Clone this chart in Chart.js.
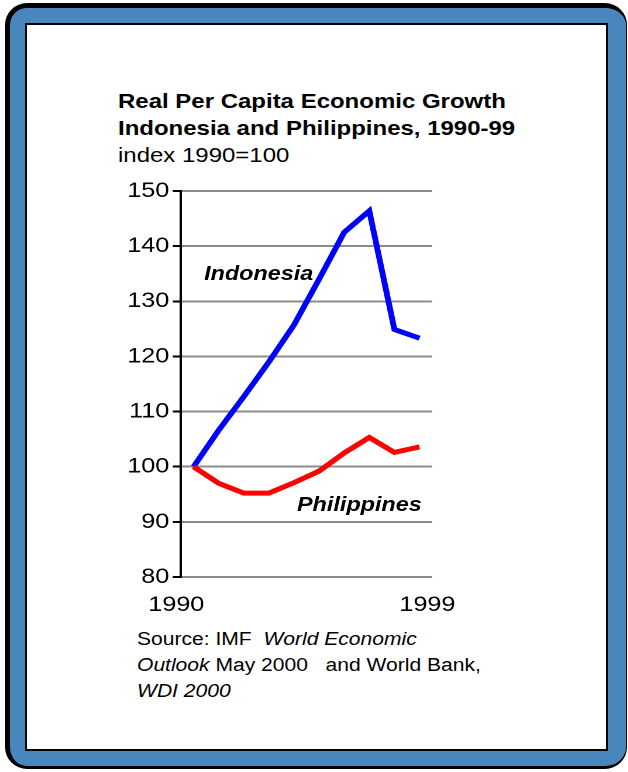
<!DOCTYPE html>
<html>
<head>
<meta charset="utf-8">
<script src="https://cdn.jsdelivr.net/npm/chart.js@4/dist/chart.umd.min.js"></script>
<style>
  html, body { margin:0; padding:0; background:#fff; width:628px; height:772px; overflow:hidden; font-family:"Liberation Sans", Arial, sans-serif; }
  #outer { position:absolute; left:5px; top:3px; width:622px; height:766px; box-sizing:border-box;
           background:#4a86be; border-style:solid; border-color:#000; border-width:5px 1px 3px 5px; border-radius:22px; }
  #inner { position:absolute; left:25px; top:23px; width:583px; height:728px; box-sizing:border-box;
           background:#fff; border:2px solid #000; }
  .st { position:absolute; transform:scaleX(1.17); transform-origin:0 0; white-space:nowrap; color:#000; }
  #title { left:118px; top:87px; font-size:20.5px; line-height:27px; }
  #title b { font-weight:bold; }
  #source { left:137px; top:626px; font-size:18px; line-height:26px; }
  #chartWrap { left:100px; top:170px; width:325px; height:450px; }
</style>
</head>
<body>
<div id="outer"></div>
<div id="inner"></div>
<div id="title" class="st"><b>Real Per Capita Economic Growth</b><br><b>Indonesia and Philippines, 1990-99</b><br>index 1990=100</div>
<div id="chartWrap" class="st"><canvas id="c" width="325" height="450"></canvas></div>
<div id="source" class="st">Source: IMF&nbsp; <i>World Economic</i><br><i>Outlook</i> May 2000&nbsp;&nbsp; and World Bank,<br><i>WDI 2000</i></div>
<script>
// ---- data ----
const years = [1990, 1991, 1992, 1993, 1994, 1995, 1996, 1997, 1998, 1999];
const indonesia = [100, 106.6, 112.7, 119.0, 125.7, 134.0, 142.5, 146.4, 124.9, 123.3];
const philippines = [100, 97.0, 95.2, 95.2, 97.1, 99.2, 102.5, 105.3, 102.6, 103.6];
const seriesNames = ['Indonesia', 'Philippines'];
const yTicks = [80, 90, 100, 110, 120, 130, 140, 150];
const xTickLabels = [String(years[0]), String(years[years.length - 1])];
// label anchors in data units [year, index value]
const labelAnchors = [[1990.42, 134.9], [1994.12, 93.0]];

const FONT = '"Liberation Sans", Arial, sans-serif';
Chart.defaults.font.family = FONT;
Chart.defaults.color = '#000';

const seriesColors = ['#0000ff', '#ff0000'];

const labelPlugin = {
  id: 'seriesLabels',
  afterDatasetsDraw(chart) {
    const ctx = chart.ctx, xs = chart.scales.x, ys = chart.scales.y;
    ctx.save();
    ctx.font = 'italic bold 20px ' + FONT;
    ctx.fillStyle = '#000';
    ctx.textAlign = 'left';
    ctx.textBaseline = 'middle';
    seriesNames.forEach((n, i) => {
      ctx.fillText(n, xs.getPixelForValue(labelAnchors[i][0]), ys.getPixelForValue(labelAnchors[i][1]));
    });
    ctx.restore();
  }
};

new Chart(document.getElementById('c'), {
  type: 'line',
  data: {
    datasets: [
      { label: seriesNames[0], data: years.map((y, i) => ({x: y, y: indonesia[i]})),
        borderColor: seriesColors[0], borderWidth: 5, pointRadius: 0, tension: 0, order: 2, fill: false },
      { label: seriesNames[1], data: years.map((y, i) => ({x: y, y: philippines[i]})),
        borderColor: seriesColors[1], borderWidth: 5, pointRadius: 0, tension: 0, order: 1, fill: false }
    ]
  },
  options: {
    responsive: false,
    animation: false,
    devicePixelRatio: 2,
    layout: { padding: { left: 0, right: 41.2, top: 21, bottom: 0 } },
    plugins: { legend: { display: false }, tooltip: { enabled: false }, title: { display: false } },
    scales: {
      x: {
        type: 'linear',
        min: years[0] - 0.5,
        max: years[years.length - 1] + 0.5,
        afterBuildTicks(s) { s.ticks = [{value: s.min}, {value: s.max}]; },
        afterFit(s) { s.height = 43; },
        grid: { display: false, drawTicks: false },
        border: { display: false },
        ticks: {
          font: { size: 21.5 }, color: '#000', padding: 15, labelOffset: -4, maxRotation: 0, autoSkip: false,
          callback: (v, i) => xTickLabels[i]
        }
      },
      y: {
        min: yTicks[0],
        max: yTicks[yTicks.length - 1],
        afterBuildTicks(s) { s.ticks = yTicks.map(v => ({value: v})); },
        afterFit(s) { s.width = 69.2; },
        grid: { color: '#8c8c8c', lineWidth: 2, tickColor: '#000', tickWidth: 2, tickLength: 7, drawTicks: true },
        border: { display: true, color: '#000', width: 2 },
        ticks: { font: { size: 21.5 }, color: '#000', padding: 3 }
      }
    }
  },
  plugins: [labelPlugin]
});
</script>
</body>
</html>
